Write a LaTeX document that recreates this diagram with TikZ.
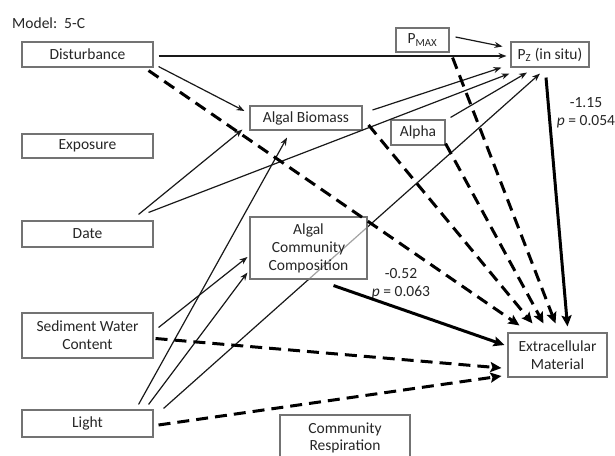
\documentclass[tikz,border=0pt]{standalone}
\usepackage{fontspec}
\setmainfont{Carlito}
\usetikzlibrary{arrows.meta,calc}
\pgfdeclarelayer{bg}
\pgfsetlayers{bg,main}
\tikzset{
  box/.style={draw=black!55, line width=1.1pt, fill=white, text=black!85,
    font=\fontsize{15.5}{18}\selectfont, align=center, inner sep=0pt},
  lbl/.style={text=black!85, font=\fontsize{15.5}{18}\selectfont, inner sep=0pt},
  thinarr/.style={draw=black!90, line width=1.2pt, -{Stealth[length=8pt,width=6pt]}},
  solidarr/.style={draw=black, line width=3pt, -{Stealth[length=11pt,width=10pt,inset=2pt]}},
  dasharr/.style={draw=black, line width=3pt, dash pattern=on 12pt off 7pt,
    -{Stealth[length=11pt,width=10pt,inset=2pt]}}
}
\begin{document}
\begin{tikzpicture}[x=1pt,y=-1pt]
\useasboundingbox (0,0) rectangle (615,455);
\clip (0,0) rectangle (615,455);

% nodes
\node[lbl, anchor=west] (model) at (12,23) {Model:\ \ 5-C};
\node[box, minimum width=131pt, minimum height=25pt] (dist) at (87.5,54.5) {Disturbance};
\node[box, minimum width=131pt, minimum height=24pt] (expo) at (87.5,146) {Exposure};
\node[box, minimum width=131pt, minimum height=26pt] (date) at (87.5,234) {Date};
\node[box, minimum width=131pt, minimum height=45pt] (sed) at (87.5,335.5) {Sediment Water\\Content};
\node[box, minimum width=131pt, minimum height=27pt] (light) at (87.5,423.5) {Light};
\node[box, minimum width=112pt, minimum height=24pt] (ab) at (306,118) {Algal Biomass};
\node[box, minimum width=117pt, minimum height=62pt, fill opacity=0.6, text opacity=1] (acc) at (308.5,248) {Algal\\Community\\Composition};
\node[box, minimum width=53pt, minimum height=24pt] (pmax) at (422.5,40) {P\textsubscript{MAX}};
\node[box, minimum width=78pt, minimum height=25pt] (pz) at (550,54.5) {P\textsubscript{Z} (in situ)};
\node[box, minimum width=54pt, minimum height=25pt] (alpha) at (418,132.5) {Alpha};
\node[box, minimum width=99pt, minimum height=44pt] (ecm) at (557.5,355) {Extracellular\\Material};
\node[box, minimum width=130pt, minimum height=55pt] (cr) at (345,442.5) {};
\node[lbl] (crtxt) at (345,429) {Community};
\node[lbl] (crtxt2) at (345,446) {Respiration};

\node[lbl] (l1) at (586,103) {-1.15};
\node[lbl] (l2) at (586,122) {\textit{p} = 0.054};
\node[lbl] (l3) at (401,274) {-0.52};
\node[lbl] (l4) at (401,293) {\textit{p} = 0.063};

% background and light -> pz, behind the composition box
\begin{pgfonlayer}{bg}
\fill[white] (0,0) rectangle (615,455);
\draw[thinarr] ($(light.north east)+(10,-1)$) -- ($(pz.south)+(-10,6)$);
\end{pgfonlayer}

% thin arrows
\draw[thinarr] ($(dist.east)+(5,1.5)$) -- ($(pz.west)+(-4,1.5)$);
\draw[thinarr] ($(dist.south east)+(5,-1)$) -- ($(ab.west)+(-5,-7)$);
\draw[thinarr] ($(date.north east)+(-15,-6)$) -- ($(ab.south west)+(-7,-1)$);
\draw[thinarr] ($(date.north east)+(-5,-8)$) -- ($(pz.south west)+(-1,6)$);
\draw[thinarr] ($(ab.east)+(10,-8)$) -- ($(pz.south west)+(-9,0)$);
\draw[thinarr] ($(alpha.north east)+(5,-2)$) -- ($(pz.south)+(-23,5)$);
\draw[thinarr] ($(pmax.east)+(6,-3)$) -- ($(pz.west)+(-8,-8)$);
\draw[thinarr] ($(light.north east)+(-15,-5)$) -- ($(ab.south)+(-19,7)$);
\draw[thinarr] ($(light.north east)+(-5,-5)$) -- ($(acc.south west)+(-2,-7)$);
\draw[thinarr] ($(sed.east)+(5,-8)$) -- ($(acc.west)+(-2,9)$);

% dashed thick arrows into extracellular material
\draw[dasharr] ($(dist.south east)+(-5,3)$) -- ($(ecm.north west)+(12,-7)$);
\draw[dasharr] ($(ab.east)+(6,7)$) -- ($(ecm.north)+(-25,-9)$);
\draw[dasharr] ($(alpha.south east)+(0,-2)$) -- ($(ecm.north)+(-14,-9)$);
\draw[dasharr] ($(pmax.south east)+(3,5)$) -- ($(ecm.north)+(-2,-9)$);
\draw[dasharr] ($(sed.east)+(2,3)$) -- ($(ecm.west)+(-6,13)$);
\draw[dasharr] ($(light.east)+(5,1.5)$) -- ($(ecm.west)+(-6,21)$);

% solid thick arrows
\draw[solidarr] ($(pz.south)+(-4,10)$) -- ($(ecm.north)+(10,-6)$);
\draw[solidarr] ($(acc.south east)+(-34,6)$) -- ($(ecm.west)+(-3,-10)$);
\end{tikzpicture}
\end{document}
